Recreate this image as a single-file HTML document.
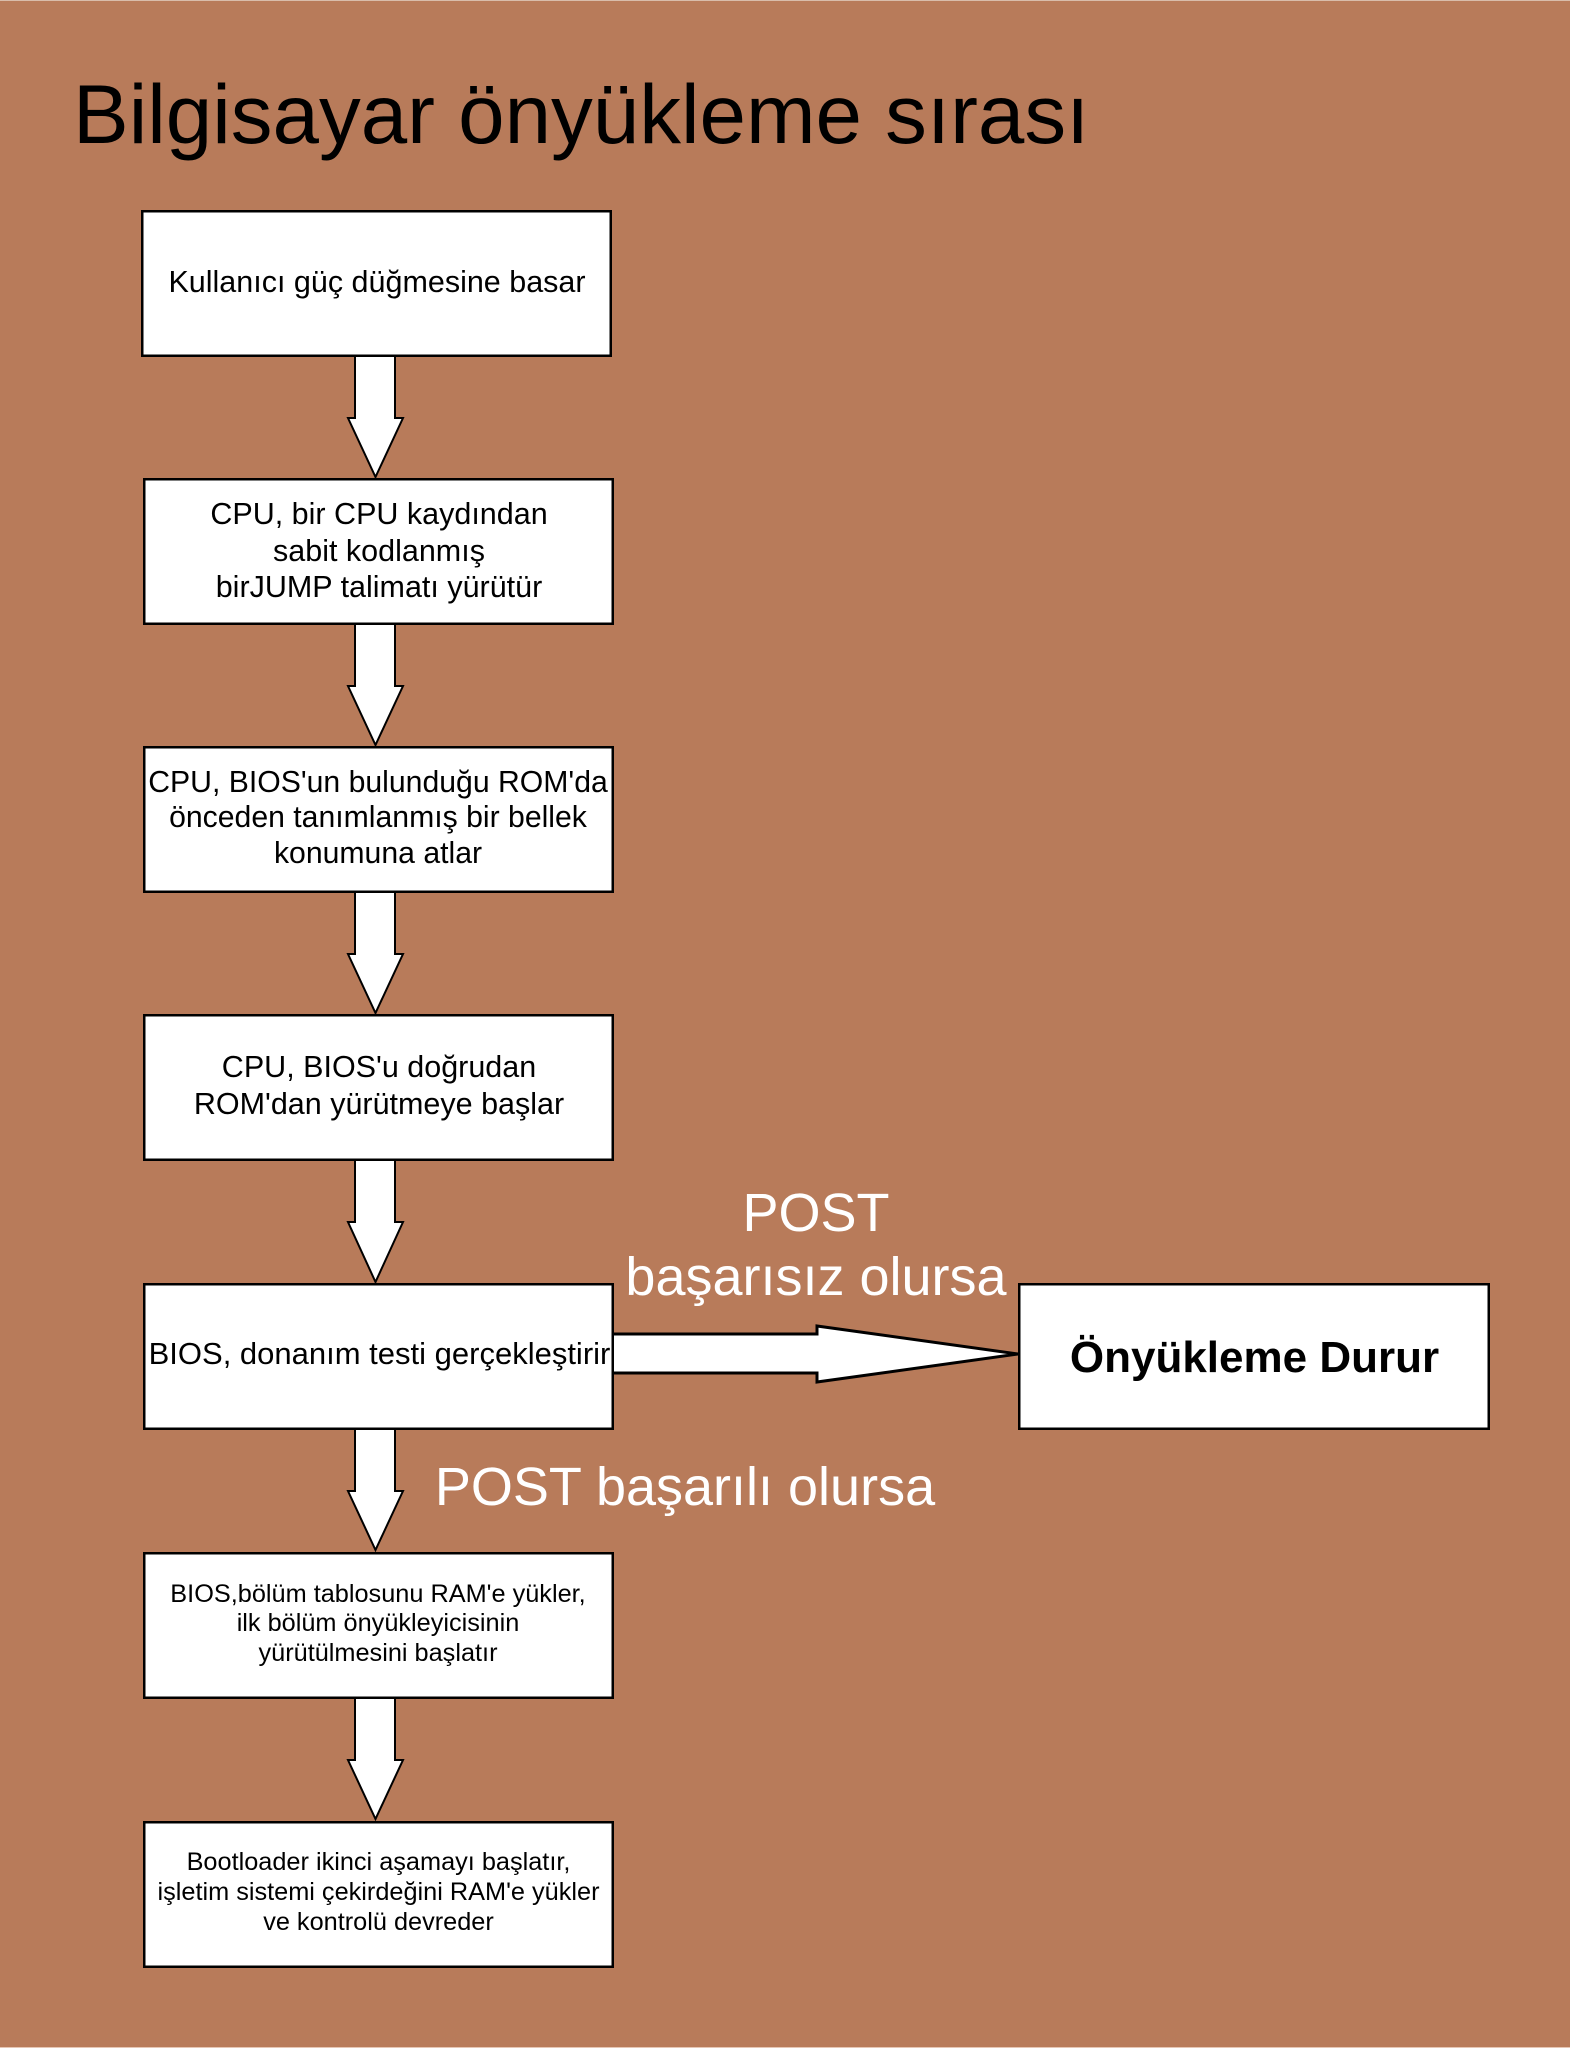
<!DOCTYPE html>
<html>
<head>
<meta charset="utf-8">
<style>
  html,body{margin:0;padding:0;}
  body{width:1570px;height:2048px;overflow:hidden;background:#B87B5A;}
  svg{display:block;}
  text{font-family:"Liberation Sans", Arial, sans-serif;}
</style>
</head>
<body>
<svg width="1570" height="2048" viewBox="0 0 1570 2048" xmlns="http://www.w3.org/2000/svg">
  <rect x="0" y="0" width="1570" height="2048" fill="#B87B5A"/>
  <rect x="0" y="0" width="1570" height="1" fill="#D9BDAB"/>
  <rect x="0" y="2047" width="1570" height="1" fill="#E6C6B4"/>

  <!-- Title -->
  <text x="73" y="143" font-size="83.5" fill="#000">Bilgisayar önyükleme sırası</text>

  <!-- Vertical arrows -->
  <g fill="#fff" stroke="#000" stroke-width="2" stroke-linejoin="miter">
    <polygon points="355,355 395,355 395,418 403,418 375.5,477 348,418 355,418"/>
    <polygon points="355,623 395,623 395,686 403,686 375.5,745 348,686 355,686"/>
    <polygon points="355,891 395,891 395,954 403,954 375.5,1013 348,954 355,954"/>
    <polygon points="355,1159 395,1159 395,1222 403,1222 375.5,1282 348,1222 355,1222"/>
    <polygon points="355,1428 395,1428 395,1491 403,1491 375.5,1550 348,1491 355,1491"/>
    <polygon points="355,1696 395,1696 395,1760 403,1760 375.5,1819 348,1760 355,1760"/>
  </g>
  <!-- Horizontal arrow -->
  <polygon points="611,1334 817,1334 817,1326 1018,1354 817,1382 817,1373 611,1373" fill="#fff" stroke="#000" stroke-width="3"/>

  <!-- Boxes -->
  <g fill="#fff" stroke="#000" stroke-width="2.5">
    <rect x="142.25" y="211.25" width="468.5" height="144.5"/>
    <rect x="144.25" y="479.25" width="468.5" height="144.5"/>
    <rect x="144.25" y="747.25" width="468.5" height="144.5"/>
    <rect x="144.25" y="1015.25" width="468.5" height="144.5"/>
    <rect x="144.25" y="1284.25" width="468.5" height="144.5"/>
    <rect x="144.25" y="1553.25" width="468.5" height="144.5"/>
    <rect x="144.25" y="1822.25" width="468.5" height="144.5"/>
    <rect x="1019.25" y="1284.25" width="469.5" height="144.5"/>
  </g>

  <!-- Box texts -->
  <g fill="#000" font-size="30.5" text-anchor="middle">
    <text x="377" y="292">Kullanıcı güç düğmesine basar</text>
    <text x="379" y="524">CPU, bir CPU kaydından</text>
    <text x="379" y="561">sabit kodlanmış</text>
    <text x="379" y="597">birJUMP talimatı yürütür</text>
    <text x="378" y="792" font-size="30.2">CPU, BIOS'un bulunduğu ROM'da</text>
    <text x="378" y="827" font-size="30.2">önceden tanımlanmış bir bellek</text>
    <text x="378" y="863" font-size="30.2">konumuna atlar</text>
    <text x="379" y="1077">CPU, BIOS'u doğrudan</text>
    <text x="379" y="1114">ROM'dan yürütmeye başlar</text>
    <text x="379.5" y="1364" font-size="31">BIOS, donanım testi gerçekleştirir</text>
  </g>
  <g fill="#000" font-size="25.3" text-anchor="middle">
    <text x="378" y="1602">BIOS,bölüm tablosunu RAM'e yükler,</text>
    <text x="378" y="1631">ilk bölüm önyükleyicisinin</text>
    <text x="378" y="1661">yürütülmesini başlatır</text>
    <text x="378.5" y="1870">Bootloader ikinci aşamayı başlatır,</text>
    <text x="378.5" y="1900">işletim sistemi çekirdeğini RAM'e yükler</text>
    <text x="378.5" y="1930">ve kontrolü devreder</text>
  </g>
  <text x="1254.5" y="1372" font-size="44" font-weight="bold" text-anchor="middle" fill="#000">Önyükleme Durur</text>

  <!-- White labels -->
  <g fill="#fff" font-size="54" text-anchor="middle">
    <text x="816" y="1231">POST</text>
    <text x="816" y="1295">başarısız olursa</text>
    <text x="685" y="1505">POST başarılı olursa</text>
  </g>
</svg>
</body>
</html>
